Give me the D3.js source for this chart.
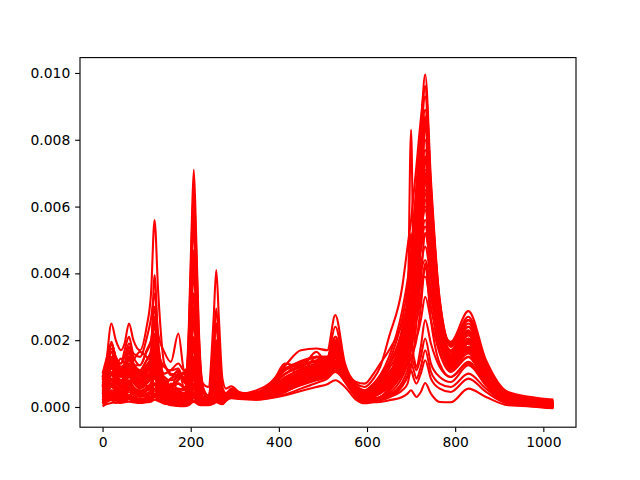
<!DOCTYPE html>
<html><head><meta charset="utf-8">
<script src="https://cdn.jsdelivr.net/npm/d3@7"></script>
<style>html,body{margin:0;padding:0;background:#fff}svg{display:block}</style>
</head><body><svg id="c" width="640" height="480"></svg>
<script>
// channel positions of the samples
const channels = [0,8,20,30,42,50,60,70,85,100, 110,118,126,140,155,172,185,196, 202,207,212,218,228,240, 252,258,264,272,280,292,310, 350,380,415,450,485,510,528,550,575,595,615,630, 650,680,692,700,706,712,722,732,745,765,790,830,870,920,1023];
// values in units of valueUnit
const valueUnit = 1e-5;
const xTicks = [0,200,400,600,800,1000];
const yTicks = [0,0.002,0.004,0.006,0.008,0.010];
const s01=[90,130,250,200,170,190,250,200,170,240, 340,560,350,130,100,95,75,60, 135,180,135,60,25,30, 50,70,50,20,30,45,40, 35,45,85,70,95,115,170,100,50,28,40,55, 75,110,125,150,170,200,300,420,260,130,90,130,65,15,5];
const s02=[40,60,120,100,80,90,130,90,70,90, 110,200,110,60,40,35,30,250, 530,710,530,250,60,35, 165,250,165,50,40,55,40, 30,45,70,85,115,130,160,100,55,35,50,60, 80,110,150,200,260,330,520,750,430,220,130,200,90,20,6];
const s03=[50,70,190,150,120,130,180,130,110,140, 170,395,200,80,60,100,80,190, 405,540,405,190,70,60, 265,410,265,85,55,62,45, 35,60,110,130,150,150,240,115,60,50,70,95, 130,200,250,290,350,430,620,870,560,270,150,240,120,30,10];
const s04=[60,90,190,140,130,170,210,160,150,205, 265,340,220,165,135,220,110,105, 225,300,225,105,30,30, 120,180,120,35,38,50,40, 50,72,125,170,175,170,275,130,75,70,100,130, 170,250,300,340,370,430,600,840,520,280,195,287,140,45,22];
const s05=[32,48,95,78,60,68,95,78,60,72, 88,120,80,48,36,32,28,150, 320,430,320,150,30,22, 110,170,110,30,32,44,36, 25,38,70,90,115,130,170,100,40,20,35,55, 90,220,300,830,380,300,500,700,420,220,140,220,110,30,12];
const s06=[15,25,35,30,25,28,35,28,22,25, 30,50,35,25,18,15,12,15, 30,40,30,18,12,12, 20,30,22,15,25,35,30, 40,55,85,115,130,145,200,115,70,60,85,120, 210,360,480,560,640,720,860,960,650,320,190,260,130,40,18];
const s07=[20,30,50,45,35,40,55,45,35,40, 50,90,55,35,25,20,16,30, 65,90,65,30,14,12, 35,55,35,18,28,38,32, 35,50,80,105,125,140,190,110,65,48,70,95, 150,290,380,460,560,660,830,995,680,320,185,270,130,40,16];
const s08=[30,45,80,60,50,55,80,60,45,55, 70,130,75,40,30,25,20,45, 95,130,95,45,14,12, 45,70,45,18,30,42,35, 30,45,72,100,120,130,180,105,55,40,60,85, 135,265,350,430,540,650,820,960,660,310,180,260,125,35,14];
const s09=[25,35,65,55,40,45,70,50,40,50, 60,110,65,38,28,22,18,38, 80,110,80,38,14,12, 40,60,38,16,28,40,34, 30,42,68,95,115,125,170,100,50,35,55,75, 125,235,320,400,510,620,800,930,640,300,170,250,115,33,13];
const s10=[18,28,40,35,28,32,45,36,30,35, 40,70,42,28,22,18,14,25, 48,65,48,25,12,10, 28,40,28,14,26,38,32, 32,48,75,100,120,130,175,100,55,38,58,78, 125,220,290,360,460,590,760,890,620,290,165,240,110,30,12];
const s11=[90,120,195,145,115,125,160,125,105,125, 150,250,150,80,60,50,40,75, 160,210,160,75,20,15, 70,110,70,22,32,48,40, 40,62,100,120,140,145,200,115,60,45,60,80, 115,195,260,320,420,560,720,850,590,280,160,230,105,28,10];
const s12=[15,22,32,28,24,26,36,30,24,28, 32,55,35,22,18,14,12,18, 34,45,34,18,11,10, 22,32,24,13,26,36,32, 30,42,65,92,110,120,160,95,45,28,45,62, 95,180,240,300,400,530,680,800,560,270,155,225,100,26,9];
const s13=[55,80,130,100,80,95,130,100,80,100, 125,185,115,75,85,110,60,60, 135,180,135,60,18,14, 60,95,60,20,32,45,36, 35,52,90,110,128,135,185,105,55,38,52,70, 100,170,230,290,380,500,640,750,530,260,150,215,95,24,8];
const s14=[35,50,100,75,60,70,100,80,60,75, 95,140,90,70,55,85,90,55, 105,140,105,50,16,12, 50,75,48,18,30,42,34, 30,45,72,100,115,125,165,95,48,30,42,58, 85,160,210,270,350,470,600,700,500,250,140,200,90,22,7];
const s15=[14,20,28,25,20,22,30,25,20,22, 26,40,28,18,14,12,10,14, 28,35,28,14,10,9, 18,26,20,12,24,34,30, 28,38,60,82,100,110,145,90,40,22,35,50, 75,140,190,240,320,430,560,650,470,240,135,195,85,20,6];
const s16=[70,100,165,120,95,110,150,115,90,110, 130,200,120,65,85,95,100,90, 195,260,195,90,22,16, 90,140,90,25,34,50,40, 38,60,100,125,135,140,195,110,58,40,55,72, 100,145,180,220,300,400,520,590,440,230,130,190,85,22,8];
const s17=[12,18,24,22,18,20,26,22,18,20, 22,32,24,16,12,10,8,10, 22,28,22,12,8,8, 16,22,18,10,22,32,28, 26,36,55,78,95,105,135,85,38,20,30,42, 65,125,170,210,270,360,470,520,410,220,125,180,80,18,5];
const s18=[100,140,190,150,130,150,190,150,125,165, 195,300,190,100,110,130,110,120, 255,340,255,120,28,18, 120,190,120,35,36,52,42, 42,65,115,135,150,150,210,118,62,42,55,70, 95,175,310,520,350,260,330,430,330,190,115,165,75,18,5];
const s19=[80,110,150,125,105,115,145,120,100,125, 140,220,140,80,60,70,60,55, 115,150,115,55,18,14, 75,130,75,22,30,44,36, 35,50,80,105,122,128,170,100,50,32,42,55, 80,135,170,200,250,310,370,390,300,170,110,150,70,16,4];
const s20=[22,32,60,48,38,42,65,50,38,48, 58,100,60,34,26,22,18,26, 52,70,52,26,12,10, 32,48,32,14,26,36,30, 25,32,48,65,80,90,110,75,32,18,20,25, 35,75,110,145,130,110,150,205,130,90,75,125,65,15,3];
const s21=[45,65,115,90,70,80,110,90,70,85, 100,150,100,60,45,50,55,48, 100,130,100,48,14,12, 60,100,60,18,28,40,34, 26,35,52,72,90,100,125,80,34,18,22,26, 35,65,95,130,110,85,120,170,105,70,60,100,55,12,2];
const s22=[28,42,72,60,45,52,78,60,48,60, 72,110,75,42,32,28,22,30, 64,85,64,30,12,10, 38,55,38,14,26,36,30, 25,32,50,68,85,95,115,75,30,15,18,22, 30,50,70,110,85,70,100,140,85,55,45,85,45,10,1];
const s23=[2,8,12,14,12,14,16,14,12,14, 16,22,18,12,5,3,2,6, 12,16,12,7,5,5, 10,14,12,9,20,28,26, 22,26,35,48,60,68,80,60,22,11,14,15, 20,30,40,50,40,30,45,72,40,15,14,55,30,5,0];
const s24=[30,42,85,70,55,62,90,72,55,70, 85,125,85,50,38,35,30,230, 490,650,490,230,50,22, 130,200,130,40,38,50,38, 32,45,72,95,112,122,160,95,46,30,42,55, 80,150,200,255,340,470,620,730,520,255,145,205,92,24,8];
const s25=[42,60,125,100,78,88,125,98,75,92, 110,170,105,60,42,40,35,205, 440,590,440,205,45,30, 190,295,190,60,42,52,40, 34,48,78,102,120,128,175,100,50,36,50,68, 100,180,225,280,370,490,640,770,540,265,150,215,98,25,9];
const s26=[36,52,105,85,65,72,105,85,65,78, 92,130,90,52,38,36,30,165, 350,470,350,165,30,28, 162,250,162,50,36,46,38, 30,42,68,92,110,118,155,92,42,28,38,50, 75,145,195,245,320,440,580,670,485,245,138,195,88,22,7];
const s27=[60,90,140,110,90,100,140,105,85,105, 120,160,110,65,50,55,50,140, 300,400,300,140,28,22, 130,200,130,40,34,46,38, 33,46,74,100,118,125,170,98,50,34,48,65, 95,160,215,265,350,460,600,710,510,250,142,205,92,24,8];
const s28=[24,36,70,58,44,50,72,58,44,55, 68,95,62,38,28,26,22,120, 255,340,255,120,24,18, 105,160,105,30,32,42,36, 28,40,62,88,105,115,150,90,40,25,35,45, 70,130,175,225,300,410,540,620,460,235,130,190,85,20,6];
const s29=[85,115,175,135,110,125,165,130,110,140, 160,270,165,90,80,90,105,100, 218,290,218,100,25,18, 98,150,98,28,34,50,40, 42,70,112,138,148,148,210,118,62,44,60,75, 105,155,200,250,320,430,570,640,480,245,140,200,90,24,8];
const s30=[18,28,45,40,32,36,50,42,34,40, 46,70,48,30,22,20,18,88, 188,250,188,88,20,14, 85,130,85,22,28,40,34, 27,37,60,80,100,108,140,85,38,22,32,40, 62,120,160,200,270,370,490,560,430,225,125,180,80,18,5];
const s31=[65,95,145,115,90,105,150,115,95,115, 135,190,125,75,60,70,60,70, 150,200,150,70,20,14, 72,110,72,20,32,48,40, 38,58,100,125,138,140,190,108,55,40,52,65, 90,135,180,225,300,400,530,600,450,235,130,190,85,22,7];
const s32=[90,110,165,130,105,115,145,115,95,115, 130,180,120,70,65,80,100,55, 115,150,115,55,16,12, 60,95,58,18,30,44,36, 36,55,88,112,125,130,175,100,50,35,45,58, 78,125,165,205,270,370,480,540,420,220,125,175,78,18,5];
const s33=[10,16,22,20,16,18,24,20,16,18, 20,30,22,14,10,10,8,24, 52,70,52,24,8,8, 24,36,24,10,22,32,28, 25,32,52,75,90,98,125,80,32,15,22,30, 55,105,140,175,230,320,420,480,380,205,118,170,75,16,4];
const s34=[48,72,115,92,72,82,115,88,72,88, 105,145,95,55,42,45,42,40, 85,110,85,40,12,10, 42,70,45,14,26,38,32, 26,34,55,78,92,102,130,82,35,17,25,30, 48,100,135,170,220,300,400,440,350,195,115,160,72,15,3];
const s35=[62,85,135,120,100,120,170,125,125,170, 200,250,170,120,110,115,75,70, 115,150,115,55,20,14, 50,80,50,18,30,44,36, 45,62,130,120,165,130,190,108,55,42,62,85, 125,210,270,350,340,350,500,680,490,245,140,200,90,22,4];
const s36=[75,95,120,125,145,130,120,140,165,150, 140,130,110,125,95,105,85,60, 90,120,90,45,15,12, 40,60,40,16,28,40,34, 38,55,118,100,150,125,160,100,52,38,42,45, 60,120,180,300,240,210,260,330,260,160,105,150,70,15,2];
const s37=[38,55,60,85,100,85,70,95,110,95, 85,100,75,90,60,70,55,40, 70,95,70,35,12,10, 35,50,35,14,26,36,30, 28,42,85,85,130,110,135,90,42,22,25,28, 40,90,130,190,150,120,180,260,190,120,90,135,65,12,0];
const s38=[12,30,80,60,40,38,60,45,55,65, 50,70,45,30,70,50,30,22, 40,55,40,20,10,8, 22,30,22,12,24,32,28, 26,34,60,75,92,100,130,85,40,22,35,50, 85,180,240,280,300,340,480,620,470,240,135,190,85,18,2];
const s39=[20,40,30,50,35,45,32,50,40,30, 40,35,30,45,35,25,18,16, 22,30,24,14,8,8, 18,24,18,10,22,30,26, 24,30,45,70,85,95,120,82,35,14,22,30, 48,125,190,250,300,380,520,640,490,250,140,200,90,20,-2];
const s40=[8,14,20,12,20,16,24,14,22,16, 20,40,22,10,8,7,5,8, 14,20,16,9,6,6, 12,18,12,8,18,26,24, 22,28,38,55,72,85,105,78,30,12,16,20, 28,62,90,120,170,250,380,520,420,220,122,175,75,14,-4];
const allSeries=[s01,s02,s03,s04,s05,s06,s07,s08,s09,s10,s11,s12,s13,s14,s15,s16,s17,s18,s19,s20,s21,s22,s23,s24,s25,s26,s27,s28,s29,s30,s31,s32,s33,s34,s35,s36,s37,s38,s39,s40];

const L=80,R=576,T=57.6,B=427.2;
const FS='13.89px';
const x=d3.scaleLinear().domain([-51.15,1074.15]).range([L,R]);
const y=d3.scaleLinear().domain([-0.000605,0.01046]).range([B,T]);
const svg=d3.select('#c');
const line=d3.line().x((d,i)=>x(channels[i])).y(d=>y(d*valueUnit)).curve(d3.curveMonotoneX);
svg.append('g').selectAll('path').data(allSeries).join('path')
  .attr('d',line).attr('fill','none').attr('stroke','#ff0000').attr('stroke-width',2.08)
  .attr('stroke-linejoin','round');
const ax=svg.append('g').attr('transform',`translate(0,${B})`)
  .call(d3.axisBottom(x).tickValues(xTicks).tickFormat(d3.format('d')).tickSize(4.86).tickPadding(4.86));
const ay=svg.append('g').attr('transform',`translate(${L},0)`)
  .call(d3.axisLeft(y).tickValues(yTicks).tickFormat(d3.format('.3f')).tickSize(4.86).tickPadding(4.86));
[ax,ay].forEach(a=>{
  a.select('.domain').remove();
  a.selectAll('line').attr('stroke','#000').attr('stroke-width',1.11);
  a.selectAll('text').attr('fill','#000').style('font-family','"DejaVu Sans"').style('font-size',FS);
});
svg.append('rect').attr('x',L).attr('y',T).attr('width',R-L).attr('height',B-T)
  .attr('fill','none').attr('stroke','#000').attr('stroke-width',1.11);
</script></body></html>
